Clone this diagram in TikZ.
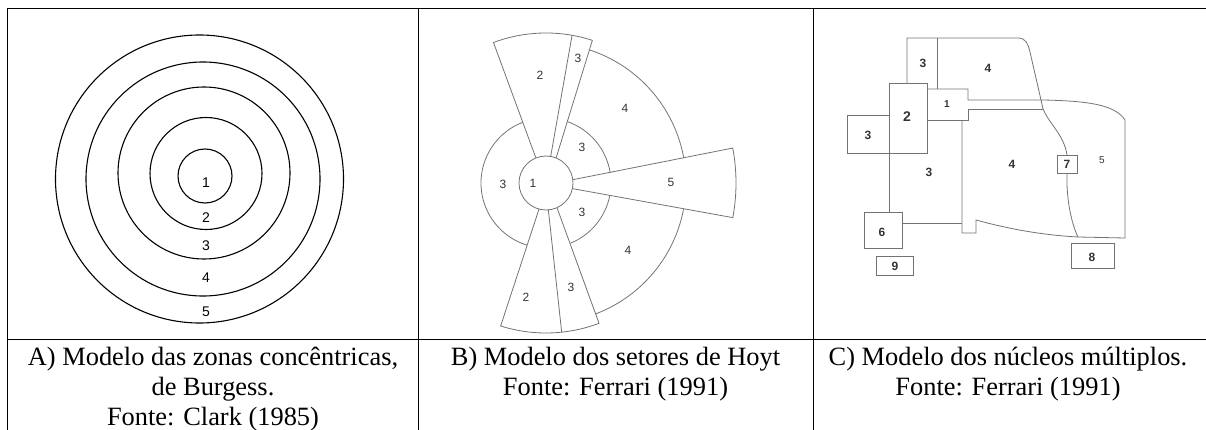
\documentclass[tikz,border=0pt]{standalone}
\usepackage{fontspec}
\setmainfont{Liberation Serif}
\setsansfont{Liberation Sans}

\begin{document}
\begin{tikzpicture}[x=1pt,y=-1pt,
    ring/.style={line width=1.1pt},
    sketch/.style={black!55,line width=0.8pt},
    zone/.style={font=\sffamily\fontsize{14}{14}\selectfont,inner sep=0pt},
    tag/.style={font=\sffamily\fontsize{12}{12}\selectfont,text=black!80,inner sep=0pt},
    legenda/.style={font=\fontsize{26.4}{30}\selectfont,align=center,anchor=north,inner sep=0pt}]
  \useasboundingbox (0,0) rectangle (1206,430);
  % table
  \draw[line width=1.4pt] (7,8.5) -- (1206,8.5);
  \draw[line width=1pt] (7,8) -- (7,430) (418,8) -- (418,430) (813,8) -- (813,430);
  \draw[line width=1pt] (7,339) -- (1206,339);

  % A) Burgess
  \draw[ring] (205,176) circle (27);
  \draw[ring] (206,173.5) circle (56);
  \draw[ring] (204,173) circle (86);
  \draw[ring] (203,179) circle (117);
  \draw[ring] (199.5,179) circle (144);
  \node[zone] (a1) at (206,183) {1};
  \node[zone] (a2) at (206,218) {2};
  \node[zone] (a3) at (206,246) {3};
  \node[zone] (a4) at (206,278) {4};
  \node[zone] (a5) at (206,312) {5};

  % B) Hoyt
  \coordinate (hc) at (546,183);
  \draw[sketch] (hc) circle (27);
  % upper sectors
  \draw[sketch] ([shift={(hc)}]-112:27) -- ([shift={(hc)}]-110.5:150)
    arc[start angle=-110.5,end angle=-72,radius=150] -- ([shift={(hc)}]-68:27);
  \draw[sketch] ([shift={(hc)}]-80:27) -- ([shift={(hc)}]-80:150);
  % lower sectors
  \draw[sketch] ([shift={(hc)}]105:27) -- ([shift={(hc)}]107.6:150)
    arc[start angle=107.6,end angle=69.3,radius=150] -- ([shift={(hc)}]66:27);
  \draw[sketch] ([shift={(hc)}]85:27) -- ([shift={(hc)}]84:150);
  % sector 5
  \draw[sketch] ([shift={(hc)}]-7:27) -- ([shift={(hc)}]-10.6:190)
    arc[start angle=-10.6,end angle=10.5,radius=190] -- ([shift={(hc)}]12:27);
  % rings 3 and 4
  \draw[sketch] ([shift={(hc)}]-111:65) arc[start angle=-111,end angle=-253,radius=65];
  \draw[sketch] ([shift={(hc)}]-71:65) arc[start angle=-71,end angle=-9,radius=65];
  \draw[sketch] ([shift={(hc)}]11:65) arc[start angle=11,end angle=68,radius=65];
  \draw[sketch] ([shift={(hc)}]-72:140) arc[start angle=-72,end angle=-10.5,radius=140];
  \draw[sketch] ([shift={(hc)}]10.8:140) arc[start angle=10.8,end angle=69,radius=140];
  \node[tag] (b1) at (533,183) {1};
  \node[tag] (b2t) at (540,75) {2};
  \node[tag] (b3t) at (578,58) {3};
  \node[tag] (b4t) at (625,108) {4};
  \node[tag] (b3i) at (582,147) {3};
  \node[tag] (b3l) at (503,184) {3};
  \node[tag] (b5) at (671,182) {5};
  \node[tag] (b3j) at (582,212) {3};
  \node[tag] (b4b) at (628,250) {4};
  \node[tag] (b2b) at (526,297) {2};
  \node[tag] (b3b) at (571,287) {3};

  % C) multiple nuclei
  \draw[sketch] (907,83) -- (907,38) -- (1018,38)
    .. controls (1026,38) and (1028,44) .. (1030,52) -- (1041,100) -- (1043,109)
    .. controls (1050,125) and (1064,135) .. (1067,155);
  \draw[sketch] (1067,173) .. controls (1066,200) and (1072,225) .. (1078,237);
  \draw[sketch] (937,38) -- (937,89);
  \draw[sketch] (889,83) rectangle (927,153);
  \draw[sketch] (889,115) -- (847,115) -- (847,153) -- (889,153);
  \draw[sketch] (927,89) -- (968,89) -- (968,100) -- (1043,100)
    .. controls (1090,101) and (1115,105) .. (1125,120) -- (1125,238) -- (1078,237);
  \draw[sketch] (1043,109) -- (968,109) -- (968,120) -- (927,120);
  \draw[sketch] (962,120) -- (962,233) -- (976,233) -- (976,220)
    .. controls (1005,228) and (1040,235) .. (1078,237);
  \draw[sketch] (889,153) -- (889,212);
  \draw[sketch] (864,212) rectangle (902,248);
  \draw[sketch] (902,223) -- (962,223);
  \draw[sketch] (876,256) rectangle (913,275);
  \draw[sketch] (1071,243) rectangle (1114,268);
  \draw[sketch] (1057,155) rectangle (1077,173);
  \node[tag,font=\sffamily\bfseries\fontsize{12}{12}\selectfont] (c3t) at (923,63) {3};
  \node[tag,font=\sffamily\bfseries\fontsize{12}{12}\selectfont] (c4t) at (988,68) {4};
  \node[tag,font=\sffamily\bfseries\fontsize{10}{10}\selectfont] (c1) at (947,104) {1};
  \node[tag,font=\sffamily\bfseries\fontsize{14}{14}\selectfont] (c2) at (907,117) {2};
  \node[tag,font=\sffamily\bfseries\fontsize{12}{12}\selectfont] (c3l) at (868,135) {3};
  \node[tag,font=\sffamily\bfseries\fontsize{12}{12}\selectfont] (c3m) at (929,172) {3};
  \node[tag,font=\sffamily\bfseries\fontsize{12}{12}\selectfont] (c4m) at (1012,164) {4};
  \node[tag,font=\sffamily\bfseries\fontsize{12}{12}\selectfont] (c7) at (1067,164) {7};
  \node[tag,font=\sffamily\fontsize{10}{10}\selectfont] (c5) at (1102,160) {5};
  \node[tag,font=\sffamily\bfseries\fontsize{12}{12}\selectfont] (c6) at (882,232) {6};
  \node[tag,font=\sffamily\bfseries\fontsize{12}{12}\selectfont] (c9) at (895,266) {9};
  \node[tag,font=\sffamily\bfseries\fontsize{12}{12}\selectfont] (c8) at (1092,257) {8};

  % captions
  \node[legenda] (capA) at (213,346.5) {A) Modelo das zonas concêntricas,\\de Burgess.\\Fonte: Clark (1985)};
  \node[legenda] (capB) at (615.5,346.5) {B) Modelo dos setores de Hoyt\\Fonte: Ferrari (1991)};
  \node[legenda] (capC) at (1008,346.5) {C) Modelo dos núcleos múltiplos.\\Fonte: Ferrari (1991)};
\end{tikzpicture}
\end{document}
